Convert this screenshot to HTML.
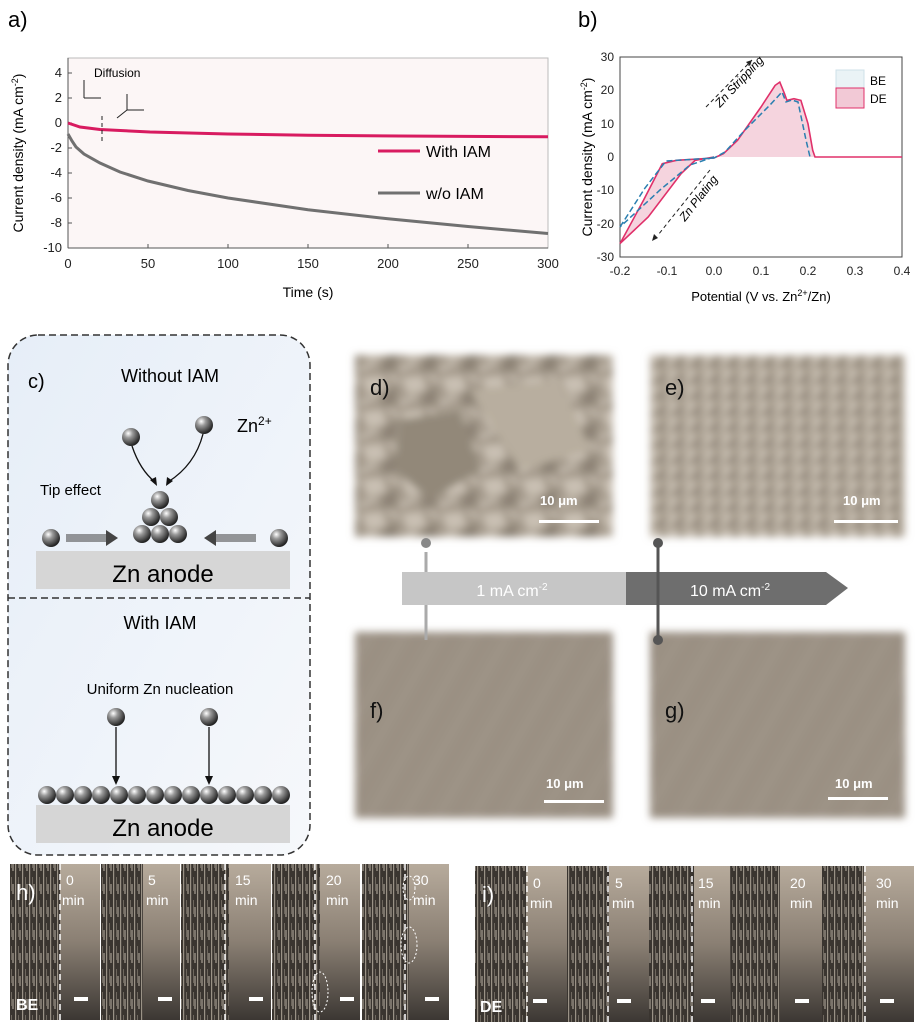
<!DOCTYPE html>
<html><head><meta charset="utf-8"><style>
html,body{margin:0;padding:0;background:#fff;}
svg{display:block;font-family:"Liberation Sans",sans-serif;}
</style></head><body>
<svg width="924" height="1024" viewBox="0 0 924 1024" xmlns="http://www.w3.org/2000/svg">
<defs>
<filter id="soft" x="-10%" y="-10%" width="120%" height="120%"><feGaussianBlur stdDeviation="4"/></filter>
<radialGradient id="ball" cx="35%" cy="30%" r="70%"><stop offset="0" stop-color="#fff"/><stop offset="0.35" stop-color="#999"/><stop offset="1" stop-color="#222"/></radialGradient>
<linearGradient id="cbg" x1="0" y1="0" x2="1" y2="1"><stop offset="0" stop-color="#e6eef8"/><stop offset="1" stop-color="#f6f8fb"/></linearGradient>
<linearGradient id="strip" x1="0" y1="0" x2="0" y2="1"><stop offset="0" stop-color="#b7ab9c"/><stop offset="0.5" stop-color="#8a7f73"/><stop offset="1" stop-color="#3c3733"/></linearGradient>
<pattern id="zn" width="7" height="23" patternUnits="userSpaceOnUse"><rect width="7" height="23" fill="#3a3530"/><rect x="1" width="1.2" height="23" fill="#9a9286"/><rect x="4" y="3" width="1" height="14" fill="#6e675e"/><rect x="5.5" y="10" width="1" height="10" fill="#bcb3a6"/></pattern>
<pattern id="rough" width="40" height="34" patternUnits="userSpaceOnUse"><rect width="40" height="34" fill="#a79d8f"/><polygon points="2,4 22,2 26,16 8,20" fill="#c9c0b3"/><polygon points="24,18 38,12 36,30 20,32" fill="#8d8376"/><path d="M0 30 L16 22" stroke="#e0d8cc" stroke-width="2"/><path d="M28 2 L40 8" stroke="#d8cfc2" stroke-width="2"/></pattern>
<pattern id="rough2" width="18" height="16" patternUnits="userSpaceOnUse"><rect width="18" height="16" fill="#aaa092"/><polygon points="1,2 10,1 11,8 3,9" fill="#c9c0b3"/><polygon points="10,9 17,7 16,15 9,15" fill="#8f8578"/><path d="M0 14 L7 10" stroke="#ddd4c8" stroke-width="1.5"/></pattern>
<pattern id="scratch" width="30" height="30" patternUnits="userSpaceOnUse" patternTransform="rotate(30)"><rect width="30" height="30" fill="#9b9184"/><rect x="7" width="1" height="30" fill="#aca397"/><rect x="21" width="1" height="30" fill="#8f8679"/></pattern>
</defs>

<!-- Panel a -->
<text x="8" y="27" font-size="22">a)</text>
<rect x="68" y="58" width="480" height="190" fill="#fcf6f6"/>
<rect x="68" y="58" width="480" height="190" fill="none" stroke="#bbb" stroke-width="1"/>
<line x1="68" y1="58" x2="68" y2="248" stroke="#555"/>
<line x1="68" y1="248" x2="548" y2="248" stroke="#555"/>
<g font-size="13" fill="#222" text-anchor="end">
<text x="62" y="77">4</text><text x="62" y="102">2</text><text x="62" y="127">0</text><text x="62" y="152">-2</text><text x="62" y="177">-4</text><text x="62" y="202">-6</text><text x="62" y="227">-8</text><text x="62" y="252">-10</text>
</g>
<g stroke="#555"><line x1="68" y1="73" x2="72" y2="73"/><line x1="68" y1="98" x2="72" y2="98"/><line x1="68" y1="123" x2="72" y2="123"/><line x1="68" y1="148" x2="72" y2="148"/><line x1="68" y1="173" x2="72" y2="173"/><line x1="68" y1="198" x2="72" y2="198"/><line x1="68" y1="223" x2="72" y2="223"/>
<line x1="148" y1="248" x2="148" y2="244"/><line x1="228" y1="248" x2="228" y2="244"/><line x1="308" y1="248" x2="308" y2="244"/><line x1="388" y1="248" x2="388" y2="244"/><line x1="468" y1="248" x2="468" y2="244"/></g>
<g font-size="13" fill="#222" text-anchor="middle">
<text x="68" y="268">0</text><text x="148" y="268">50</text><text x="228" y="268">100</text><text x="308" y="268">150</text><text x="388" y="268">200</text><text x="468" y="268">250</text><text x="548" y="268">300</text>
</g>
<text x="308" y="297" font-size="14" text-anchor="middle">Time (s)</text>
<text transform="translate(23,153) rotate(-90)" font-size="14" text-anchor="middle">Current density (mA cm<tspan dy="-5" font-size="9">-2</tspan><tspan dy="5">)</tspan></text>
<path d="M68,134 L72,141 L76,147 L84,154 L100,163 L120,172 L148,181 L188,190.5 L228,198 L308,209.7 L388,218.8 L468,226.5 L548,233.5" fill="none" stroke="#707070" stroke-width="3"/>
<path d="M68,123 L80,127 L100,129.5 L150,132 L228,134 L308,135.2 L400,136 L548,136.8" fill="none" stroke="#d81b60" stroke-width="3"/>
<line x1="378" y1="151" x2="420" y2="151" stroke="#d81b60" stroke-width="3"/>
<text x="426" y="157" font-size="16">With IAM</text>
<line x1="378" y1="193" x2="420" y2="193" stroke="#707070" stroke-width="3"/>
<text x="426" y="199" font-size="16">w/o IAM</text>
<text x="94" y="77" font-size="12">Diffusion</text>
<g stroke="#222" stroke-width="1" fill="none">
<line x1="102" y1="116" x2="102" y2="142" stroke-dasharray="4,3"/>
<line x1="84" y1="98" x2="84" y2="80"/><line x1="84" y1="98" x2="101" y2="98"/>
<line x1="127" y1="110" x2="127" y2="94"/><line x1="127" y1="110" x2="144" y2="110"/><line x1="127" y1="110" x2="117" y2="118"/>
</g>

<!-- Panel b -->
<text x="578" y="27" font-size="22">b)</text>
<rect x="620" y="57" width="282" height="200" fill="#fff" stroke="#444"/>
<g font-size="12" fill="#222" text-anchor="end">
<text x="614" y="61">30</text><text x="614" y="94">20</text><text x="614" y="128">10</text><text x="614" y="161">0</text><text x="614" y="194">-10</text><text x="614" y="228">-20</text><text x="614" y="261">-30</text>
</g>
<g font-size="12" fill="#222" text-anchor="middle">
<text x="620" y="275">-0.2</text><text x="667" y="275">-0.1</text><text x="714" y="275">0.0</text><text x="761" y="275">0.1</text><text x="808" y="275">0.2</text><text x="855" y="275">0.3</text><text x="902" y="275">0.4</text>
</g>
<text x="761" y="301" font-size="13" text-anchor="middle">Potential (V vs. Zn<tspan dy="-5" font-size="9">2+</tspan><tspan dy="5">/Zn)</tspan></text>
<text transform="translate(592,157) rotate(-90)" font-size="14" text-anchor="middle">Current density (mA cm<tspan dy="-5" font-size="9">-2</tspan><tspan dy="5">)</tspan></text>
<path d="M620,243.6 L643.5,200.3 L662.3,163.7 L676.4,160.3 L714,158 L723.4,153.7 L737.5,140.4 L761,107 L775.1,85.4 L779.8,82.1 L784.5,93.7 L786.9,100.4 L793.9,98.7 L800.9,100.4 L808,123.7 L812.7,150.3 L815,157 L714,157 L695.2,160.3 L681.1,173.7 L648.2,217 Z" fill="#f2c9d6" fill-opacity="0.8"/>
<path d="M620,243.6 L643.5,200.3 L662.3,163.7 L676.4,160.3 L714,158 L723.4,153.7 L737.5,140.4 L761,107 L775.1,85.4 L779.8,82.1 L784.5,93.7 L786.9,100.4 L793.9,98.7 L800.9,100.4 L808,123.7 L812.7,150.3 L815,157 L902,157 M714,157 L695.2,160.3 L681.1,173.7 L648.2,217 L620,243.6" fill="none" stroke="#e0306a" stroke-width="1.6"/>
<path d="M620,227 L645,188 L666,161 L714,158 L725,152 L745,130 L770,105 L782,92 L786,102 L792,100 L798,102 L806,140 L810,157 M714,157 L690,165 L660,190 L620,227" fill="none" stroke="#2a7fb0" stroke-width="1.5" stroke-dasharray="6,3"/>
<g stroke="#222" stroke-dasharray="4,3" fill="none"><line x1="706" y1="107" x2="752" y2="60"/><line x1="710" y1="170" x2="658" y2="235"/></g>
<polygon points="752,60 746,62 750,66" fill="#222"/><polygon points="652,241 654,234 658,238" fill="#222"/>
<text transform="translate(720,108) rotate(-47)" font-size="12" font-style="italic">Zn Stripping</text>
<text transform="translate(685,222) rotate(-52)" font-size="12" font-style="italic">Zn Plating</text>
<rect x="836" y="70" width="28" height="20" fill="#eaf3f6" stroke="#cfe0e8"/><text x="870" y="85" font-size="12">BE</text>
<rect x="836" y="88" width="28" height="20" fill="#f2c9d6" stroke="#e0306a"/><text x="870" y="103" font-size="12">DE</text>

<!-- Panel c -->
<rect x="8" y="335" width="302" height="520" rx="30" fill="url(#cbg)" stroke="#333" stroke-width="1.5" stroke-dasharray="7,4"/>
<line x1="8" y1="598" x2="310" y2="598" stroke="#333" stroke-width="1.5" stroke-dasharray="7,4"/>
<text x="28" y="388" font-size="20">c)</text>
<text x="170" y="382" font-size="18" text-anchor="middle">Without IAM</text>
<text x="237" y="432" font-size="18">Zn<tspan dy="-7" font-size="12">2+</tspan></text>
<text x="40" y="495" font-size="15">Tip effect</text>
<g stroke="#111" stroke-width="1.3" fill="none"><path d="M132,446 Q140,470 155,482"/><path d="M203,434 Q195,465 168,482"/></g>
<polygon points="157,486 150,480 156,477" fill="#111"/><polygon points="166,486 167,477 173,481" fill="#111"/>
<rect x="36" y="551" width="254" height="38" fill="#d6d6d6"/>
<text x="163" y="582" font-size="24" text-anchor="middle">Zn anode</text>
<rect x="66" y="534" width="40" height="8" fill="#555" opacity="0.6"/><polygon points="106,530 118,538 106,546" fill="#444"/>
<rect x="216" y="534" width="40" height="8" fill="#555" opacity="0.6"/><polygon points="216,530 204,538 216,546" fill="#444"/>
<g fill="url(#ball)">
<circle cx="131" cy="437" r="9"/><circle cx="204" cy="425" r="9"/>
<circle cx="160" cy="500" r="9"/><circle cx="151" cy="517" r="9"/><circle cx="169" cy="517" r="9"/>
<circle cx="142" cy="534" r="9"/><circle cx="160" cy="534" r="9"/><circle cx="178" cy="534" r="9"/>
<circle cx="51" cy="538" r="9"/><circle cx="279" cy="538" r="9"/>
</g>
<text x="160" y="629" font-size="18" text-anchor="middle">With IAM</text>
<text x="160" y="694" font-size="15" text-anchor="middle">Uniform Zn nucleation</text>
<g stroke="#111" stroke-width="1.3"><line x1="116" y1="727" x2="116" y2="778"/><line x1="209" y1="727" x2="209" y2="778"/></g>
<polygon points="112,776 120,776 116,785" fill="#111"/><polygon points="205,776 213,776 209,785" fill="#111"/>
<rect x="36" y="805" width="254" height="38" fill="#d6d6d6"/>
<text x="163" y="836" font-size="24" text-anchor="middle">Zn anode</text>
<g fill="url(#ball)">
<circle cx="116" cy="717" r="9"/><circle cx="209" cy="717" r="9"/>
<circle cx="47" cy="795" r="9"/><circle cx="65" cy="795" r="9"/><circle cx="83" cy="795" r="9"/><circle cx="101" cy="795" r="9"/><circle cx="119" cy="795" r="9"/><circle cx="137" cy="795" r="9"/><circle cx="155" cy="795" r="9"/><circle cx="173" cy="795" r="9"/><circle cx="191" cy="795" r="9"/><circle cx="209" cy="795" r="9"/><circle cx="227" cy="795" r="9"/><circle cx="245" cy="795" r="9"/><circle cx="263" cy="795" r="9"/><circle cx="281" cy="795" r="9"/>
</g>

<!-- SEM panels -->
<g filter="url(#soft)">
<rect x="355" y="355" width="258" height="182" fill="url(#rough)"/>
<polygon points="400,420 460,410 480,470 430,500 395,470" fill="#928879"/>
<polygon points="470,390 560,380 590,450 520,470" fill="#b8ae9f"/>
<rect x="650" y="355" width="255" height="182" fill="url(#rough2)"/>
<rect x="355" y="632" width="258" height="186" fill="url(#scratch)"/>
<rect x="650" y="632" width="255" height="186" fill="url(#scratch)"/>
</g>
<g font-size="22" fill="#111"><text x="370" y="395">d)</text><text x="665" y="395">e)</text><text x="370" y="718">f)</text><text x="665" y="718">g)</text></g>
<g font-size="13" font-weight="bold" fill="#fff"><text x="540" y="505">10 μm</text><text x="843" y="505">10 μm</text><text x="546" y="788">10 μm</text><text x="835" y="788">10 μm</text></g>
<g fill="#fff"><rect x="539" y="520" width="60" height="3"/><rect x="834" y="520" width="64" height="3"/><rect x="544" y="800" width="60" height="3"/><rect x="828" y="797" width="60" height="3"/></g>
<line x1="426" y1="552" x2="426" y2="640" stroke="#aaa" stroke-width="3"/>
<rect x="402" y="572" width="224" height="33" fill="#c6c6c6"/>
<polygon points="626,572 826,572 848,588 826,605 626,605" fill="#6e6e6e"/>
<line x1="658" y1="543" x2="658" y2="640" stroke="#555" stroke-width="3"/>
<circle cx="426" cy="543" r="5" fill="#888"/><circle cx="658" cy="543" r="5" fill="#555"/><circle cx="658" cy="640" r="5" fill="#555"/>
<text x="512" y="596" font-size="16" fill="#fff" text-anchor="middle">1 mA cm<tspan dy="-6" font-size="10">-2</tspan></text>
<text x="730" y="596" font-size="16" fill="#fff" text-anchor="middle">10 mA cm<tspan dy="-6" font-size="10">-2</tspan></text>

<!-- h -->
<g>
<rect x="10" y="864" width="50" height="156" fill="url(#zn)"/><rect x="60" y="864" width="40" height="156" fill="url(#strip)"/>
<rect x="101" y="864" width="42" height="156" fill="url(#zn)"/><rect x="143" y="864" width="37" height="156" fill="url(#strip)"/>
<rect x="181" y="864" width="48" height="156" fill="url(#zn)"/><rect x="229" y="864" width="42" height="156" fill="url(#strip)"/>
<rect x="272" y="864" width="48" height="156" fill="url(#zn)"/><rect x="320" y="864" width="40" height="156" fill="url(#strip)"/>
<rect x="362" y="864" width="47" height="156" fill="url(#zn)"/><rect x="409" y="864" width="40" height="156" fill="url(#strip)"/>
<g stroke="#fff" stroke-width="1.5" stroke-dasharray="6,4"><line x1="60" y1="864" x2="60" y2="1020"/><line x1="225" y1="864" x2="225" y2="1020"/><line x1="315" y1="864" x2="315" y2="1020"/><line x1="405" y1="864" x2="405" y2="1020"/></g>
<g fill="none" stroke="#fff" stroke-dasharray="2,2"><ellipse cx="320" cy="992" rx="8" ry="20"/><ellipse cx="409" cy="945" rx="8" ry="18"/><ellipse cx="409" cy="888" rx="6" ry="12"/></g>
<text x="16" y="900" font-size="22" fill="#fff">h)</text>
<text x="16" y="1010" font-size="16" font-weight="bold" fill="#fff">BE</text>
<g font-size="14" fill="#fff"><text x="66" y="885">0</text><text x="62" y="905">min</text><text x="148" y="885">5</text><text x="146" y="905">min</text><text x="235" y="885">15</text><text x="235" y="905">min</text><text x="326" y="885">20</text><text x="326" y="905">min</text><text x="413" y="885">30</text><text x="413" y="905">min</text></g>
<g fill="#fff"><rect x="74" y="997" width="14" height="4"/><rect x="158" y="997" width="14" height="4"/><rect x="249" y="997" width="14" height="4"/><rect x="340" y="997" width="14" height="4"/><rect x="425" y="997" width="14" height="4"/></g>
</g>
<!-- i -->
<g>
<rect x="475" y="866" width="52" height="156" fill="url(#zn)"/><rect x="527" y="866" width="40" height="156" fill="url(#strip)"/>
<rect x="567" y="866" width="42" height="156" fill="url(#zn)"/><rect x="609" y="866" width="40" height="156" fill="url(#strip)"/>
<rect x="649" y="866" width="45" height="156" fill="url(#zn)"/><rect x="694" y="866" width="36" height="156" fill="url(#strip)"/>
<rect x="730" y="866" width="50" height="156" fill="url(#zn)"/><rect x="780" y="866" width="42" height="156" fill="url(#strip)"/>
<rect x="822" y="866" width="42" height="156" fill="url(#zn)"/><rect x="864" y="866" width="50" height="156" fill="url(#strip)"/>
<g stroke="#fff" stroke-width="1.5" stroke-dasharray="6,4"><line x1="527" y1="866" x2="527" y2="1022"/><line x1="608" y1="866" x2="608" y2="1022"/><line x1="692" y1="866" x2="692" y2="1022"/><line x1="865" y1="866" x2="865" y2="1022"/></g>
<text x="482" y="902" font-size="22" fill="#fff">i)</text>
<text x="480" y="1012" font-size="16" font-weight="bold" fill="#fff">DE</text>
<g font-size="14" fill="#fff"><text x="533" y="888">0</text><text x="530" y="908">min</text><text x="615" y="888">5</text><text x="612" y="908">min</text><text x="698" y="888">15</text><text x="698" y="908">min</text><text x="790" y="888">20</text><text x="790" y="908">min</text><text x="876" y="888">30</text><text x="876" y="908">min</text></g>
<g fill="#fff"><rect x="533" y="999" width="14" height="4"/><rect x="617" y="999" width="14" height="4"/><rect x="701" y="999" width="14" height="4"/><rect x="795" y="999" width="14" height="4"/><rect x="880" y="999" width="14" height="4"/></g>
</g>
</svg>
</body></html>
